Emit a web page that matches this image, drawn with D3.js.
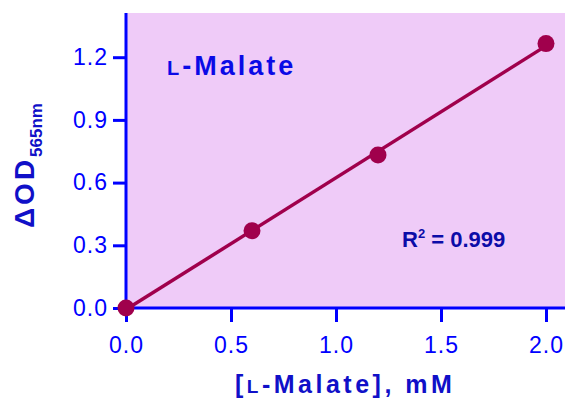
<!DOCTYPE html>
<html>
<head>
<meta charset="utf-8">
<script src="https://cdn.jsdelivr.net/npm/d3@7.9.0/dist/d3.min.js"></script>
<style>
  body { margin: 0; background: #fff; }
  svg { display: block; font-family: "Liberation Sans", Arial, sans-serif; }
</style>
</head>
<body>
<svg width="569" height="402"></svg>
<script>
const concentrations = [0, 0.6, 1.2, 2.0];
const odValues = [0, 0.37, 0.732, 1.265];
const xTicks = [0, 0.5, 1.0, 1.5, 2.0];
const yTicks = [0, 0.3, 0.6, 0.9, 1.2];
const r2Text = "0.999";

const svg = d3.select("svg");

// plot frame
const plotLeft = 126, plotRight = 565, plotTop = 13, plotBottom = 308;

const x = d3.scaleLinear().domain([0, 2]).range([plotLeft, 546]);
const y = d3.scaleLinear().domain([0, 1.2]).range([plotBottom, 57.2]);

svg.append("rect")
  .attr("x", plotLeft).attr("y", plotTop)
  .attr("width", plotRight - plotLeft).attr("height", plotBottom - plotTop)
  .attr("fill", "#efcbf8");

// least squares fit through the points
const mx = d3.mean(concentrations), my = d3.mean(odValues);
let sxy = 0, sxx = 0;
concentrations.forEach((c, i) => {
  sxy += (c - mx) * (odValues[i] - my);
  sxx += (c - mx) * (c - mx);
});
const slope = sxy / sxx;
const intercept = my - slope * mx;

svg.append("line")
  .attr("x1", x(0)).attr("y1", y(intercept))
  .attr("x2", x(2)).attr("y2", y(intercept + slope * 2))
  .attr("stroke", "#a0004c")
  .attr("stroke-width", 3.5);

// axes
const xAxis = d3.axisBottom(x)
  .tickValues(xTicks)
  .tickFormat(d3.format(".1f"))
  .tickSize(14)
  .tickPadding(14.5);

const yAxis = d3.axisLeft(y)
  .tickValues(yTicks)
  .tickFormat(d3.format(".1f"))
  .tickSize(13)
  .tickPadding(5);

const gx = svg.append("g").attr("transform", `translate(0,${plotBottom})`).call(xAxis);
const gy = svg.append("g").attr("transform", `translate(${plotLeft},0)`).call(yAxis);

[gx, gy].forEach(g => {
  g.select(".domain").remove();
  g.selectAll(".tick line").attr("stroke", "#0000ff").attr("stroke-width", 3);
  g.selectAll(".tick text")
    .attr("fill", "#0000ff")
    .attr("font-size", 23)
    .attr("letter-spacing", 1)
    .attr("font-family", "Liberation Sans, Arial, sans-serif");
});

svg.append("line")
  .attr("x1", plotLeft).attr("x2", plotLeft)
  .attr("y1", plotTop).attr("y2", plotBottom)
  .attr("stroke", "#0000ff").attr("stroke-width", 3);
svg.append("line")
  .attr("x1", plotLeft).attr("x2", plotRight)
  .attr("y1", plotBottom).attr("y2", plotBottom)
  .attr("stroke", "#0000ff").attr("stroke-width", 3);

// points
svg.selectAll("circle.pt")
  .data(concentrations)
  .join("circle")
  .attr("class", "pt")
  .attr("cx", d => x(d))
  .attr("cy", (d, i) => y(odValues[i]))
  .attr("r", 8.5)
  .attr("fill", "#a0004c");

// title inside plot
const title = svg.append("text")
  .attr("x", 167).attr("y", 75)
  .attr("font-size", 27).attr("font-weight", "bold")
  .attr("letter-spacing", 3)
  .attr("fill", "#0a0ae6");
title.append("tspan").attr("font-size", 20).text("L");
title.append("tspan").text("-Malate");

// R squared
const r2 = svg.append("text")
  .attr("x", 402).attr("y", 247)
  .attr("font-size", 22).attr("font-weight", "bold")
  .attr("fill", "#0c0ca8");
r2.append("tspan").text("R");
r2.append("tspan").attr("font-size", 13).attr("dy", -9).text("2");
r2.append("tspan").attr("dy", 9).text(" = " + r2Text);

// x label
const xl = svg.append("text")
  .attr("x", 235).attr("y", 393)
  .attr("font-size", 25).attr("font-weight", "bold")
  .attr("letter-spacing", 3.5)
  .attr("fill", "#1010c8");
xl.append("tspan").text("[");
xl.append("tspan").attr("font-size", 19).text("L");
xl.append("tspan").text("-Malate], mM");

// y label
const yl = svg.append("text")
  .attr("transform", "translate(34,228) rotate(-90)")
  .attr("font-size", 28).attr("font-weight", "bold")
  .attr("letter-spacing", 3)
  .attr("fill", "#1010c8");
yl.append("tspan").text("ΔOD");
yl.append("tspan").attr("font-size", 17).attr("dy", 8).attr("letter-spacing", 0).text("565nm");
</script>
</body>
</html>
